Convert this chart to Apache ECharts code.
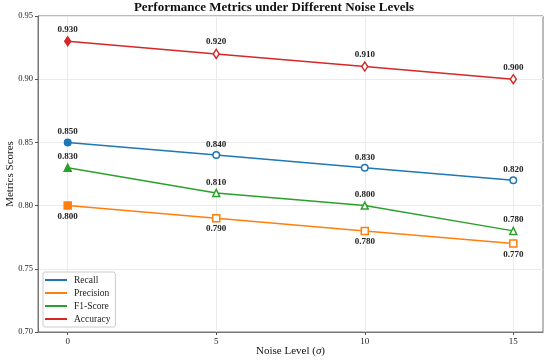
<!DOCTYPE html>
<html><head><meta charset="utf-8">
<script src="https://cdn.jsdelivr.net/npm/echarts@6/dist/echarts.min.js"></script>
<style>html,body{margin:0;padding:0;background:#fff}#c{width:550px;height:361px}</style>
</head><body><div id="c"></div>
<script>
const noiseLevels = [0, 5, 10, 15];
const recall = [0.85, 0.84, 0.83, 0.82];
const precision = [0.80, 0.79, 0.78, 0.77];
const f1Score = [0.83, 0.81, 0.80, 0.78];
const accuracy = [0.93, 0.92, 0.91, 0.90];
const yTicks = [0.70, 0.75, 0.80, 0.85, 0.90, 0.95];

const FONT = 'Liberation Serif';
function mk(name, vals, color, symbol, size, labelPos) {
  return {
    name: name, type: 'line', color: color,
    data: vals.map((v, i) => ({
      value: [noiseLevels[i], v],
      itemStyle: { color: i === 0 ? color : '#fff', borderColor: color, borderWidth: 1.5 }
    })),
    symbol: symbol, symbolSize: size,
    lineStyle: { width: 1.5, color: color },
    label: {
      show: true, position: labelPos, distance: 2,
      formatter: p => p.value[1].toFixed(3),
      fontFamily: FONT, fontSize: 9, fontWeight: 'bold', color: '#222'
    },
    emphasis: { disabled: true }, z: 3
  };
}
const chart = echarts.init(document.getElementById('c'), null, { renderer: 'canvas' });
chart.setOption({
  animation: false,
  textStyle: { fontFamily: FONT },
  title: {
    text: 'Performance Metrics under Different Noise Levels',
    left: 274, top: 1, padding: 0, textAlign: 'center',
    textStyle: { fontFamily: FONT, fontSize: 13, fontWeight: 'bold', color: '#111' }
  },
  grid: { left: 38, right: 7, top: 16, bottom: 29, show: true, borderColor: '#777', borderWidth: 1,
    containLabel: false, outerBoundsMode: 'none' },
  legend: {
    orient: 'vertical', left: 43, top: 272,
    itemWidth: 22, itemHeight: 2, itemGap: 3,
    icon: 'rect',
    backgroundColor: '#fff', borderColor: '#ccc', borderWidth: 1, borderRadius: 2,
    padding: [3, 5, 3, 2],
    textStyle: { fontFamily: FONT, fontSize: 9.5, color: '#222', padding: [0,0,0,2] },
    data: ['Recall', 'Precision', 'F1-Score', 'Accuracy']
  },
  xAxis: {
    type: 'value', min: -1, max: 16,
    name: 'Noise Level ({i|σ})', nameLocation: 'middle', nameGap: 14, nameMoveOverlap: false,
    nameTextStyle: { fontFamily: FONT, fontSize: 11, color: '#111',
      rich: { i: { fontFamily: FONT, fontSize: 11, fontStyle: 'italic', color: '#111' } } },
    axisLine: { show: true, onZero: false, lineStyle: { color: '#777' } },
    axisTick: { show: true, length: 3, lineStyle: { color: '#555' }, customValues: noiseLevels },
    axisLabel: { fontFamily: FONT, fontSize: 9, color: '#222', margin: 5, customValues: noiseLevels },
    splitLine: { show: true, lineStyle: { color: '#ebebeb', width: 1 } }
  },
  yAxis: {
    type: 'value', min: 0.70, max: 0.95, interval: 0.05,
    name: 'Metrics Scores', nameLocation: 'middle', nameGap: 22, nameMoveOverlap: false,
    nameTextStyle: { fontFamily: FONT, fontSize: 11, color: '#111' },
    axisLine: { show: true, onZero: false, lineStyle: { color: '#777' } },
    axisTick: { show: true, length: 3, lineStyle: { color: '#555' } },
    axisLabel: { fontFamily: FONT, fontSize: 8.5, color: '#222', margin: 5, formatter: v => v.toFixed(2) },
    splitLine: { show: true, lineStyle: { color: '#ebebeb', width: 1 } }
  },
  series: [
    mk('Recall', recall, '#1f77b4', 'circle', 6.5, 'top'),
    mk('Precision', precision, '#ff7f0e', 'rect', 7, 'bottom'),
    mk('F1-Score', f1Score, '#2ca02c', 'triangle', 7, 'top'),
    mk('Accuracy', accuracy, '#d62728', 'diamond', [6, 9], 'top')
  ]
});
</script></body></html>
